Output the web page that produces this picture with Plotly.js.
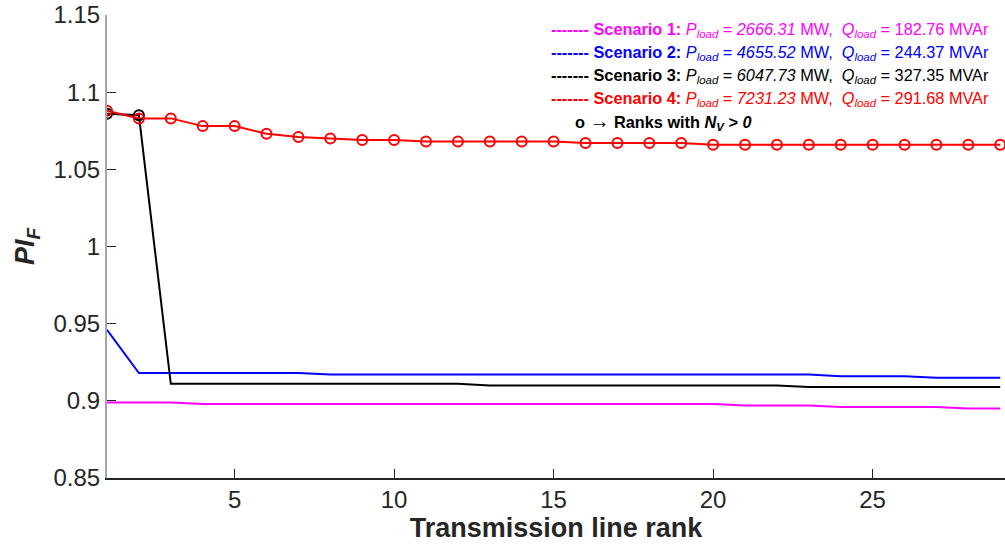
<!DOCTYPE html>
<html>
<head>
<meta charset="utf-8">
<script src="https://cdn.plot.ly/plotly-3.0.1.min.js"></script>
<style>html,body{margin:0;padding:0;background:#fff;}#chart{width:1005px;height:550px;}</style>
</head>
<body>
<div id="chart"></div>
<script>
// Transmission line rank 1..29
const ranks = [1,2,3,4,5,6,7,8,9,10,11,12,13,14,15,16,17,18,19,20,21,22,23,24,25,26,27,28,29];

const scenario1 = [0.899,0.899,0.899,0.898,0.898,0.898,0.898,0.898,0.898,0.898,0.898,0.898,0.898,0.898,0.898,0.898,0.898,0.898,0.898,0.898,0.897,0.897,0.897,0.896,0.896,0.896,0.896,0.895,0.895];
const scenario2 = [0.946,0.918,0.918,0.918,0.918,0.918,0.918,0.917,0.917,0.917,0.917,0.917,0.917,0.917,0.917,0.917,0.917,0.917,0.917,0.917,0.917,0.917,0.917,0.916,0.916,0.916,0.915,0.915,0.915];
const scenario3 = [1.086,1.085,0.911,0.911,0.911,0.911,0.911,0.911,0.911,0.911,0.911,0.911,0.910,0.910,0.910,0.910,0.910,0.910,0.910,0.910,0.910,0.910,0.909,0.909,0.909,0.909,0.909,0.909,0.909];
const scenario4 = [1.088,1.083,1.083,1.078,1.078,1.073,1.071,1.070,1.069,1.069,1.068,1.068,1.068,1.068,1.068,1.067,1.067,1.067,1.067,1.066,1.066,1.066,1.066,1.066,1.066,1.066,1.066,1.066,1.066];

// Ranks with N_V > 0 (marked with circles)
const scenario3Marked = [1,2];
const scenario4Marked = ranks;

const scenarioNames = ["Scenario 1:","Scenario 2:","Scenario 3:","Scenario 4:"];
const pLoad = ["2666.31","4655.52","6047.73","7231.23"];
const qLoad = ["182.76","244.37","327.35","291.68"];
const colors = ["#ff00ff","#0000ff","#000000","#ff0000"];

const xTicks = [5,10,15,20,25];
const yTicks = [0.85,0.9,0.95,1,1.05,1.1,1.15];
const yTickText = ["0.85","0.9","0.95","1","1.05","1.1","1.15"];

const FONT = "Liberation Sans, Arial, sans-serif";
const series = [scenario1, scenario2, scenario3, scenario4];

const traces = series.map((s,i)=>({
  x: ranks, y: s, type:"scatter", mode:"lines",
  line:{color:colors[i], width:2}, showlegend:false, hoverinfo:"skip"
}));
// Circle markers
const pick = (xs, s) => xs.map(r => s[ranks.indexOf(r)]);
traces.push({
  x: scenario3Marked, y: pick(scenario3Marked, scenario3), type:"scatter", mode:"markers",
  marker:{symbol:"circle-open", size:10, color:"#000000", line:{width:2, color:"#000000"}},
  showlegend:false, hoverinfo:"skip"
});
traces.push({
  x: scenario4Marked, y: pick(scenario4Marked, scenario4), type:"scatter", mode:"markers",
  marker:{symbol:"circle-open", size:10, color:"#ff0000", line:{width:2, color:"#ff0000"}},
  showlegend:false, hoverinfo:"skip"
});

const legendY = [0.968, 0.918, 0.868, 0.818];
const annotations = scenarioNames.map((n,i)=>({
  xref:"paper", yref:"paper", x:0.984, y:legendY[i], xanchor:"right", yanchor:"middle",
  showarrow:false,
  font:{family:FONT, size:16.3, color:colors[i]},
  text:"<b>------- " + n + "</b> <i>P<sub>load</sub></i> = <i>" + pLoad[i] + "</i> MW,  <i>Q<sub>load</sub></i> = " + qLoad[i] + " MVAr"
}));
annotations.push({
  xref:"paper", yref:"paper", x:0.519, y:0.769, xanchor:"left", yanchor:"middle",
  showarrow:false, font:{family:FONT, size:16.3, color:"#000000"},
  text:"<b>o <span style='font-size:20px'>\u2192</span> Ranks with <i>N<sub>V</sub> > 0</i></b>"
});

const layout = {
  width:1005, height:550,
  margin:{l:107, r:0, t:15, b:72},
  paper_bgcolor:"#ffffff", plot_bgcolor:"#ffffff",
  font:{family:FONT, color:"#262626"},
  showlegend:false,
  xaxis:{
    range:[1,29.15], tickvals:xTicks, ticktext:xTicks.map(String),
    ticks:"inside", ticklen:9, tickcolor:"#262626", tickwidth:1,
    showline:true, linecolor:"#262626", linewidth:1.5,
    showgrid:false, zeroline:false,
    tickfont:{family:FONT, size:24, color:"#262626"},
    title:{text:"<b>Transmission line rank</b>", font:{family:FONT, size:27, color:"#262626"}, standoff:6}
  },
  yaxis:{
    range:[0.85,1.15], tickvals:yTicks, ticktext:yTickText,
    ticks:"inside", ticklen:9, tickcolor:"#262626", tickwidth:1,
    showline:true, linecolor:"#a6a6a6", linewidth:2,
    showgrid:false, zeroline:false,
    tickfont:{family:FONT, size:24, color:"#262626"},
    title:{text:"<b><i>PI<sub>F</sub></i></b>", font:{family:FONT, size:27, color:"#262626"}, standoff:11}
  },
  annotations: annotations
};

Plotly.newPlot("chart", traces, layout, {staticPlot:true, displayModeBar:false});
</script>
</body>
</html>
